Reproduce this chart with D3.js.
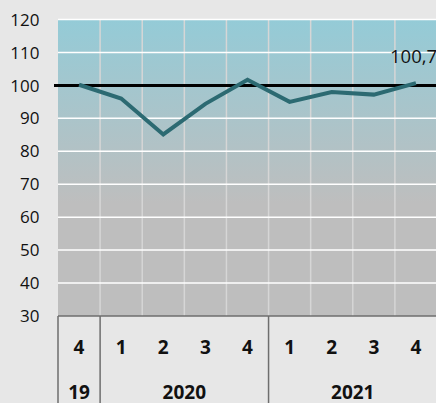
<!DOCTYPE html>
<html>
<head>
<meta charset="utf-8">
<script src="https://cdn.jsdelivr.net/npm/d3@7"></script>
<style>
  html, body { margin: 0; padding: 0; background: #e7e7e7; }
  svg { display: block; font-family: "Open Sans", sans-serif; }
</style>
</head>
<body>
<svg id="chart" width="436" height="403"></svg>
<script>
// data
const quarters = ["4", "1", "2", "3", "4", "1", "2", "3", "4"];
const values = [100.2, 96.0, 85.1, 94.4, 101.7, 95.0, 98.0, 97.2, 100.7];
const years = [
    { label: "19", from: 0, to: 0 },
    { label: "2020", from: 1, to: 4 },
    { label: "2021", from: 5, to: 8 }
];
const yTicks = [30, 40, 50, 60, 70, 80, 90, 100, 110, 120];
const refValue = 100;
const lastLabel = "100,7";

const svg = d3.select("#chart");
const width = 436, height = 403;
const plotLeft = 58, plotTop = 19.5, plotBottom = 316, plotRight = 437;

const x = d3.scaleBand().domain(d3.range(quarters.length)).range([plotLeft, plotRight]).padding(0);
const y = d3.scaleLinear().domain([30, 120]).range([plotBottom, plotTop]);

// background gradient of the plot
const defs = svg.append("defs");
const grad = defs.append("linearGradient")
    .attr("id", "bg").attr("x1", 0).attr("y1", 0).attr("x2", 0).attr("y2", 1);
grad.append("stop").attr("offset", "0%").attr("stop-color", "#94cbd7");
grad.append("stop").attr("offset", "62%").attr("stop-color", "#bebebe");
grad.append("stop").attr("offset", "100%").attr("stop-color", "#bebebe");

svg.append("rect")
    .attr("x", plotLeft).attr("y", plotTop)
    .attr("width", plotRight - plotLeft).attr("height", plotBottom - plotTop)
    .attr("fill", "url(#bg)");

// vertical grid
svg.append("g").selectAll("line")
    .data(d3.range(1, quarters.length))
    .enter().append("line")
    .attr("x1", d => x(d)).attr("x2", d => x(d))
    .attr("y1", plotTop).attr("y2", plotBottom)
    .attr("stroke", "#d6d6d6").attr("stroke-width", 1.5);

// horizontal grid
svg.append("g").selectAll("line")
    .data(yTicks.slice(1))
    .enter().append("line")
    .attr("x1", plotLeft).attr("x2", plotRight)
    .attr("y1", d => y(d)).attr("y2", d => y(d))
    .attr("stroke", "#ffffff").attr("stroke-width", 1.5);

// y labels
svg.append("g").selectAll("text")
    .data(yTicks)
    .enter().append("text")
    .attr("x", 39.5).attr("y", d => y(d))
    .attr("dy", "0.36em")
    .attr("text-anchor", "end")
    .attr("font-size", 17)
    .attr("fill", "#111")
    .text(d => d);

// reference line at 100
svg.append("line")
    .attr("x1", 54).attr("x2", width)
    .attr("y1", y(refValue)).attr("y2", y(refValue))
    .attr("stroke", "#000").attr("stroke-width", 3);

// series line
const line = d3.line()
    .x((d, i) => x(i) + x.bandwidth() / 2)
    .y(d => y(d));

svg.append("path")
    .datum(values)
    .attr("d", line)
    .attr("fill", "none")
    .attr("stroke", "#2c6a72")
    .attr("stroke-width", 4)
    .attr("stroke-linejoin", "miter");

// last value label
svg.append("text")
    .attr("x", 390).attr("y", y(values[values.length - 1]) - 20)
    .attr("font-size", 18.5)
    .attr("fill", "#111")
    .text(lastLabel);

// category axis frame
const axisColor = "#6e6e6e";
svg.append("line")
    .attr("x1", plotLeft).attr("x2", plotRight)
    .attr("y1", plotBottom).attr("y2", plotBottom)
    .attr("stroke", axisColor).attr("stroke-width", 1.5);

svg.append("g").selectAll("line")
    .data(years)
    .enter().append("line")
    .attr("x1", d => x(d.from)).attr("x2", d => x(d.from))
    .attr("y1", plotBottom).attr("y2", height)
    .attr("stroke", axisColor).attr("stroke-width", 1.5);

svg.append("g").selectAll("text")
    .data(quarters)
    .enter().append("text")
    .attr("x", (d, i) => x(i) + x.bandwidth() / 2)
    .attr("y", 347).attr("dy", "0.36em")
    .attr("text-anchor", "middle")
    .attr("font-size", 19).attr("font-weight", "bold")
    .attr("fill", "#111")
    .text(d => d);

svg.append("g").selectAll("text")
    .data(years)
    .enter().append("text")
    .attr("x", d => (x(d.from) + x(d.to) + x.bandwidth()) / 2)
    .attr("y", 392.5).attr("dy", "0.36em")
    .attr("text-anchor", "middle")
    .attr("font-size", 19).attr("font-weight", "bold")
    .attr("fill", "#111")
    .text(d => d.label);
</script>
</body>
</html>
